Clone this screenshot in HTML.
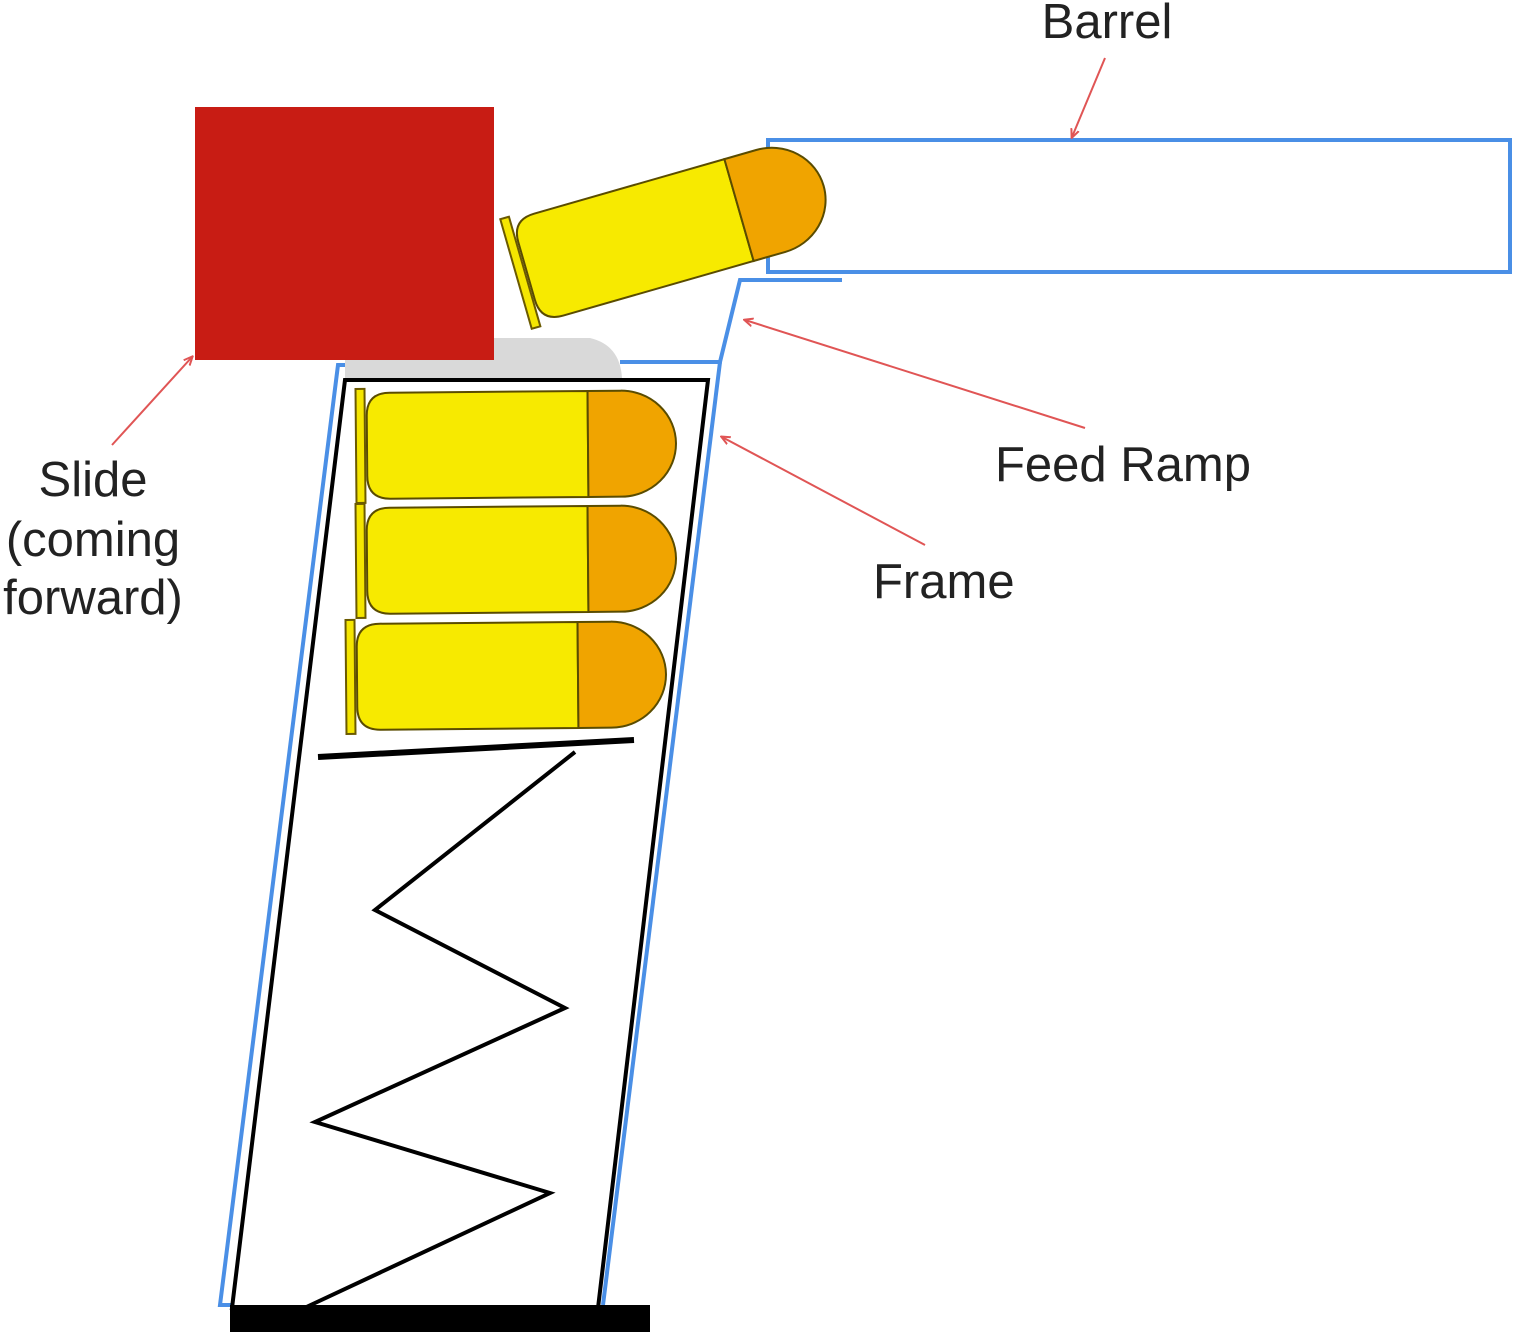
<!DOCTYPE html>
<html><head><meta charset="utf-8"><style>
html,body{margin:0;padding:0;background:#fff;width:1514px;height:1332px;overflow:hidden}
text{font-family:"Liberation Sans",sans-serif;fill:#222;font-size:49px}
</style></head><body>
<svg width="1514" height="1332" viewBox="0 0 1514 1332" xmlns="http://www.w3.org/2000/svg">
<defs>
<marker id="ah" markerWidth="10" markerHeight="10" refX="8" refY="5" orient="auto" markerUnits="userSpaceOnUse"><path d="M0,1 L9,5 L0,9" fill="none" stroke="#e05555" stroke-width="2"/></marker>
<g id="bul">
<rect x="0" y="-57" width="9" height="114" fill="#f5e600" stroke="#6b5a00" stroke-width="2"/>
<path d="M11,-30 Q11,-53 34,-53 L232,-53 L232,53 L34,53 Q11,53 11,30 Z" fill="#f7ea00" stroke="#5a4c00" stroke-width="2"/>
<path d="M232,-53 L265,-53 A55,53 0 0 1 265,53 L232,53 Z" fill="#f0a400" stroke="#5a4c00" stroke-width="2"/>
</g>
</defs>
<rect x="768" y="140" width="742" height="132" fill="#fff" stroke="#4a8fe6" stroke-width="4"/>
<polyline points="842,280 740,280 720,362 620,362" fill="none" stroke="#4a8fe6" stroke-width="4"/>
<line x1="720" y1="362" x2="603" y2="1305" stroke="#4a8fe6" stroke-width="4"/>
<polyline points="345,365 338,365 220,1305 232,1305" fill="none" stroke="#4a8fe6" stroke-width="4"/>
<path d="M345,378 L345,338 L590,338 Q620,345 622,378 Z" fill="#d9d9d9"/>
<rect x="195" y="107" width="299" height="253" fill="#c81c14"/>
<polygon points="345,380 708,380 598,1308 232,1308" fill="none" stroke="#000" stroke-width="4"/>
<rect x="230" y="1305" width="420" height="27" fill="#000"/>
<use href="#bul" transform="translate(356,446) rotate(-0.5)"/>
<use href="#bul" transform="translate(356,561) rotate(-0.5)"/>
<use href="#bul" transform="translate(346,677) rotate(-0.5)"/>
<use href="#bul" transform="translate(516,274) rotate(-16)"/>
<line x1="318" y1="757" x2="634" y2="740" stroke="#000" stroke-width="6"/>
<polyline points="575,752 375,910 565,1008 315,1122 550,1193 300,1310" fill="none" stroke="#000" stroke-width="4"/>
<line x1="1105" y1="58" x2="1072" y2="137" stroke="#e05555" stroke-width="2" marker-end="url(#ah)"/>
<line x1="112" y1="445" x2="192" y2="357" stroke="#e05555" stroke-width="2" marker-end="url(#ah)"/>
<line x1="1085" y1="428" x2="745" y2="320" stroke="#e05555" stroke-width="2" marker-end="url(#ah)"/>
<line x1="925" y1="545" x2="722" y2="437" stroke="#e05555" stroke-width="2" marker-end="url(#ah)"/>
<text x="1107" y="38" text-anchor="middle">Barrel</text>
<text x="93" y="496" text-anchor="middle">Slide</text>
<text x="93" y="556" text-anchor="middle">(coming</text>
<text x="93" y="614" text-anchor="middle">forward)</text>
<text x="995" y="481">Feed Ramp</text>
<text x="873" y="598">Frame</text>
</svg>
</body></html>
